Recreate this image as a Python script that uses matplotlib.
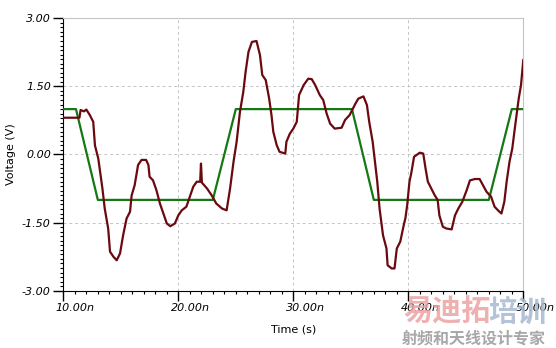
import numpy as np
import matplotlib
matplotlib.use("Agg")
from matplotlib import pyplot as plt
from matplotlib.ticker import MultipleLocator
import matplotlib.transforms as mtransforms

# input trace (green), time in ns
t_in = [10.0, 11.1, 13.0, 23.0, 25.0, 35.1, 37.0, 47.0, 49.0, 50.0]
v_in = [1.0, 1.0, -1.0, -1.0, 1.0, 1.0, -1.0, -1.0, 1.0, 1.0]

# received trace (dark red), time in ns
t_out = [10.0, 11.4, 11.5, 11.8, 12.0, 12.3, 12.6, 12.75, 13.04, 13.2,
         13.4, 13.6, 13.9, 14.06, 14.35, 14.64, 14.93, 15.2, 15.5, 15.8,
         15.94, 16.2, 16.5, 16.8, 17.2, 17.4, 17.5, 17.8, 18.1, 18.4,
         18.7, 19.0, 19.3, 19.7, 20.0, 20.3, 20.7, 21.0, 21.3, 21.6,
         21.9, 21.97, 22.05, 22.5, 22.9, 23.3, 23.8, 24.2, 24.5, 24.8,
         25.07, 25.36, 25.65, 25.85, 26.1, 26.4, 26.8, 27.1, 27.3, 27.6,
         27.9, 28.1, 28.26, 28.55, 28.8, 29.3, 29.4, 29.7, 30.0, 30.3,
         30.5, 30.9, 31.3, 31.6, 31.9, 32.3, 32.6, 32.9, 33.2, 33.6,
         34.2, 34.5, 34.9, 35.4, 35.65, 36.1, 36.4, 36.6, 36.9, 37.1,
         37.3, 37.5, 37.8, 38.1, 38.2, 38.55, 38.8, 39.0, 39.3, 39.6,
         39.75, 39.9, 40.1, 40.25, 40.5, 41.0, 41.3, 41.5, 41.7, 42.0,
         42.3, 42.55, 42.7, 43.0, 43.3, 43.77, 44.06, 44.35, 44.7, 45.07,
         45.36, 45.8, 46.2, 46.5, 46.8, 47.2, 47.5, 47.8, 48.1, 48.35,
         48.55, 48.8, 49.04, 49.3, 49.6, 49.8, 50.0]
v_out = [0.81, 0.81, 0.98, 0.95, 0.99, 0.87, 0.72, 0.2, -0.09, -0.38,
         -0.75, -1.19, -1.63, -2.14, -2.25, -2.33, -2.18, -1.78, -1.41, -1.26,
         -0.9, -0.68, -0.23, -0.12, -0.12, -0.23, -0.49, -0.57, -0.79, -1.08,
         -1.3, -1.52, -1.58, -1.52, -1.34, -1.23, -1.15, -0.93, -0.71, -0.6,
         -0.6, -0.2, -0.62, -0.75, -0.9, -1.08, -1.19, -1.23, -0.75, -0.16,
         0.28, 0.94, 1.38, 1.82, 2.26, 2.48, 2.5, 2.19, 1.75, 1.64,
         1.23, 0.87, 0.5, 0.21, 0.06, 0.02, 0.28, 0.46, 0.57, 0.72,
         1.31, 1.53, 1.67, 1.66, 1.53, 1.31, 1.2, 0.9, 0.68, 0.57,
         0.59, 0.76, 0.87, 1.12, 1.23, 1.28, 1.09, 0.72, 0.28, -0.16,
         -0.6, -1.19, -1.78, -2.07, -2.44, -2.51, -2.51, -2.07, -1.92, -1.56,
         -1.4, -1.12, -0.6, -0.42, -0.05, 0.04, 0.02, -0.31, -0.6, -0.75,
         -0.9, -1.0, -1.34, -1.59, -1.63, -1.65, -1.34, -1.19, -1.04, -0.79,
         -0.57, -0.54, -0.54, -0.68, -0.82, -0.93, -1.15, -1.23, -1.3, -1.04,
         -0.6, -0.16, 0.13, 0.65, 1.23, 1.53, 2.08]

xticks = [10, 20, 30, 40, 50]
xlabels = ["10.00n", "20.00n", "30.00n", "40.00n", "50.00n"]
yticks = [-3.0, -1.5, 0.0, 1.5, 3.0]
ylabels = ["-3.00", "-1.50", "0.00", "1.50", "3.00"]

fig = plt.figure(figsize=(5.56, 3.48), dpi=100)
ax = fig.add_axes([0.1139, 0.1647, 0.8273, 0.7827])

ax.plot(t_in, v_in, color="#147814", lw=1.6, zorder=3)
ax.plot(t_out, v_out, color="#6a0a10", lw=1.6, zorder=4)

ax.set_xlim(10, 50)
ax.set_ylim(-3, 3)
ax.set_xticks(xticks)
ax.set_xticklabels(xlabels, fontsize=8, style="italic")
ax.set_yticks(yticks)
ax.set_yticklabels(ylabels, fontsize=8, style="italic")
ax.xaxis.set_minor_locator(MultipleLocator(1))
ax.yaxis.set_minor_locator(MultipleLocator(0.1))
ax.tick_params(axis="both", which="major", direction="out", length=7, width=1, pad=2)
ax.tick_params(axis="both", which="minor", direction="out", length=2.5, width=0.8)

# labels on x sit to the right of their tick
offset = mtransforms.ScaledTranslation(0.12, 0, fig.dpi_scale_trans)
for lab in ax.get_xticklabels():
    lab.set_transform(lab.get_transform() + offset)

ax.grid(True, which="major", color="#c4c4c4", ls=(0, (3, 3)), lw=0.7)
ax.spines["top"].set_color("#c4c4c4")
ax.spines["right"].set_color("#c4c4c4")

ax.set_xlabel("Time (s)", fontsize=8, labelpad=8)
ax.set_ylabel("Voltage (V)", fontsize=8, labelpad=4)

# watermark
fig.text(0.725, 0.105, "易迪拓", family=["Noto Sans CJK SC", "DejaVu Sans"],
         fontsize=21, fontweight="bold", color="#eba3a3", ha="left", va="center", alpha=0.85)
fig.text(0.878, 0.105, "培训", family=["Noto Sans CJK SC", "DejaVu Sans"],
         fontsize=21, fontweight="bold", color="#a7b9d0", ha="left", va="center", alpha=0.85)
fig.text(0.722, 0.028, "射频和天线设计专家", family=["Noto Sans CJK SC", "DejaVu Sans"],
         fontsize=11.5, fontweight="bold", color="#a8a8a8", ha="left", va="center")

fig.savefig("out.png", dpi=100)
